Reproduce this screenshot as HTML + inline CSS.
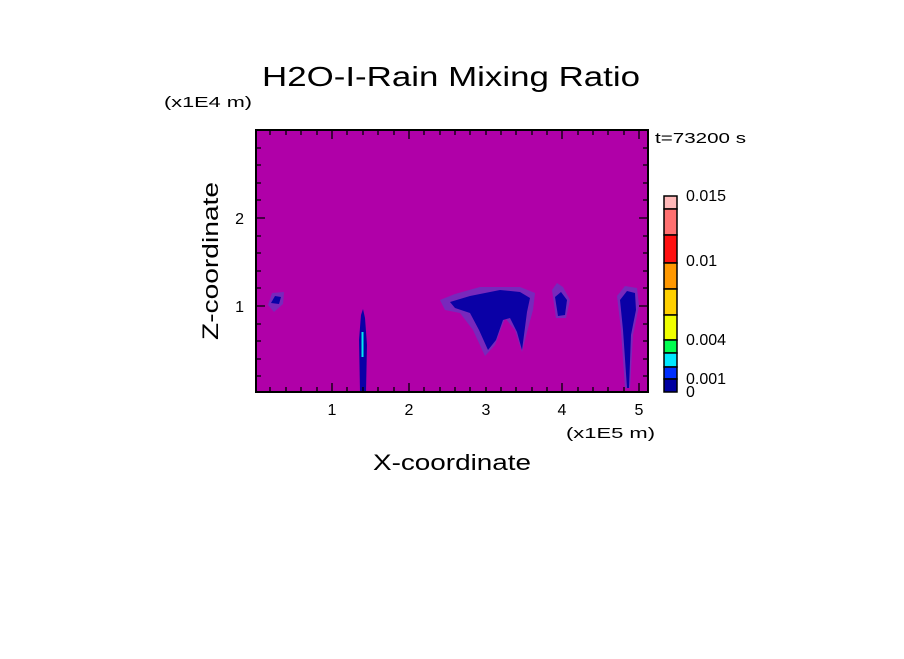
<!DOCTYPE html>
<html><head><style>
body{margin:0;background:#fff;}
svg text{font-family:"Liberation Sans",sans-serif;fill:#000;}
</style></head><body>
<svg width="904" height="654" viewBox="0 0 904 654" xmlns="http://www.w3.org/2000/svg">
<rect width="904" height="654" fill="#fff"/>
<text x="262" y="86" font-size="28" textLength="378" lengthAdjust="spacingAndGlyphs">H2O-I-Rain Mixing Ratio</text>
<text x="164" y="107" font-size="15" textLength="88" lengthAdjust="spacingAndGlyphs">(x1E4 m)</text>
<text x="655" y="143" font-size="15" textLength="91" lengthAdjust="spacingAndGlyphs">t=73200 s</text>
<rect x="256" y="130" width="392" height="262" fill="#b000a8"/>
<g fill="#7828bc">
<path d="M268,305 L272,293 L284,292 L283,304 L274,312 Z"/>
<path d="M440,300 L455,294 L480,287 L520,287 L535,293 L533,310 L527,332 L522,352 L515,330 L505,318 L495,345 L485,356 L473,330 L460,313 L445,310 Z"/>
<path d="M552,290 L557,283 L563,287 L570,300 L566,318 L556,318 Z"/>
<path d="M617,296 L625,286 L637,288 L639,306 L633,335 L630,388 L625,388 L621,330 Z"/>
</g>
<g fill="#0a00a6">
<path d="M271,303 L275,296 L281,297 L279,304 Z"/>
<path d="M450,302 L470,296 L500,290 L520,292 L530,298 L527,312 L524,335 L522,350 L517,332 L510,318 L503,320 L496,340 L488,350 L479,330 L470,313 L455,308 Z"/>
<path d="M555,297 L561,292 L567,300 L565,315 L558,316 Z"/>
<path d="M620,300 L627,291 L635,293 L636,310 L631,335 L629,388 L627,388 L623,330 Z"/>
<path d="M360,392 L359,340 L361,315 L363,309 L365,318 L367,345 L366,392 Z"/>
</g>
<rect x="361.5" y="332" width="2" height="25" fill="#00e8f0"/>
<g stroke="#000" stroke-width="2" fill="none">
<rect x="256" y="130" width="392" height="262"/>
</g>
<g stroke="#000" stroke-width="1.3">
<path d="M270,392v-5M286,392v-5M301,392v-5M317,392v-5M332,392v-9M347,392v-5M363,392v-5M378,392v-5M394,392v-5M409,392v-9M424,392v-5M440,392v-5M455,392v-5M470,392v-5M486,392v-5M501,392v-5M516,392v-5M532,392v-5M547,392v-5M562,392v-9M578,392v-5M593,392v-5M608,392v-5M624,392v-5M639,392v-9"/>
<path d="M270,130v5M286,130v5M301,130v5M317,130v5M332,130v9M347,130v5M363,130v5M378,130v5M394,130v5M409,130v9M424,130v5M440,130v5M455,130v5M470,130v5M486,130v5M501,130v5M516,130v5M532,130v5M547,130v5M562,130v9M578,130v5M593,130v5M608,130v5M624,130v5M639,130v9"/>
<path d="M256,376h5M256,359h5M256,341h5M256,324h5M256,306h9M256,288h5M256,271h5M256,253h5M256,236h5M256,218h9M256,200h5M256,183h5M256,165h5M256,148h5M256,130h9"/>
<path d="M648,376h-5M648,359h-5M648,341h-5M648,324h-5M648,306h-9M648,288h-5M648,271h-5M648,253h-5M648,236h-5M648,218h-9M648,200h-5M648,183h-5M648,165h-5M648,148h-5"/>
</g>
<g font-size="16" text-anchor="middle">
<text x="332" y="415">1</text><text x="409" y="415">2</text><text x="486" y="415">3</text><text x="562" y="415">4</text><text x="639" y="415">5</text>
</g>
<g font-size="16" text-anchor="end">
<text x="244" y="312">1</text><text x="244" y="224">2</text>
</g>
<text x="566" y="438" font-size="15" textLength="89" lengthAdjust="spacingAndGlyphs">(x1E5 m)</text>
<text x="373" y="470" font-size="22" textLength="158" lengthAdjust="spacingAndGlyphs">X-coordinate</text>
<text transform="translate(218,340) rotate(-90)" font-size="22" textLength="158" lengthAdjust="spacingAndGlyphs">Z-coordinate</text>
<g stroke="#000" stroke-width="1.5">
<rect x="664" y="196" width="13" height="13" fill="#ffb8b8"/>
<rect x="664" y="209" width="13" height="26" fill="#ff7070"/>
<rect x="664" y="235" width="13" height="28" fill="#ff1010"/>
<rect x="664" y="263" width="13" height="26" fill="#ff9800"/>
<rect x="664" y="289" width="13" height="26" fill="#ffd000"/>
<rect x="664" y="315" width="13" height="25" fill="#f0ff00"/>
<rect x="664" y="340" width="13" height="13" fill="#00ff50"/>
<rect x="664" y="353" width="13" height="14" fill="#00e8ff"/>
<rect x="664" y="367" width="13" height="12" fill="#0030ff"/>
<rect x="664" y="379" width="13" height="13" fill="#0000a0"/>
</g>
<g font-size="16">
<text x="686" y="201">0.015</text>
<text x="686" y="266">0.01</text>
<text x="686" y="345">0.004</text>
<text x="686" y="384">0.001</text>
<text x="686" y="397">0</text>
</g>
</svg>
</body></html>
